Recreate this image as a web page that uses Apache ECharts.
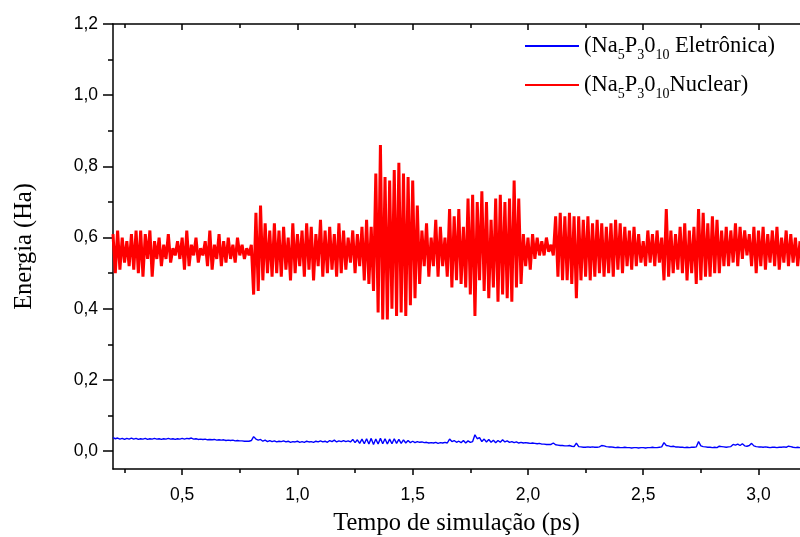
<!DOCTYPE html>
<html>
<head>
<meta charset="utf-8">
<script src="https://cdn.jsdelivr.net/npm/echarts@6/dist/echarts.min.js"></script>
<style>
  html, body { margin: 0; padding: 0; background: #fff; }
  #chart { width: 800px; height: 537px; }
</style>
</head>
<body>
<div id="chart"></div>
<script>
// sample times: start and step (ps)
const T0 = 0.2;
const DT = 0.01;

// Nuclear energy (Ha), one value per sample
const nuclear = [
  0.61,0.50,0.62,0.51,0.60,0.53,0.59,0.52,0.61,0.51,
  0.62,0.50,0.62,0.49,0.61,0.54,0.62,0.49,0.59,0.54,
  0.60,0.52,0.58,0.54,0.61,0.53,0.57,0.55,0.59,0.54,
  0.60,0.51,0.62,0.52,0.58,0.55,0.60,0.53,0.57,0.55,
  0.59,0.52,0.62,0.51,0.58,0.54,0.61,0.52,0.59,0.53,
  0.60,0.54,0.58,0.53,0.60,0.55,0.58,0.54,0.57,0.55,
  0.58,0.44,0.67,0.45,0.69,0.48,0.64,0.50,0.62,0.49,
  0.64,0.50,0.62,0.49,0.63,0.51,0.60,0.48,0.64,0.50,
  0.61,0.52,0.62,0.49,0.64,0.51,0.63,0.48,0.61,0.52,
  0.65,0.49,0.62,0.50,0.63,0.51,0.61,0.49,0.64,0.50,
  0.62,0.51,0.60,0.53,0.62,0.50,0.61,0.52,0.63,0.48,
  0.65,0.47,0.63,0.45,0.78,0.39,0.86,0.37,0.77,0.37,
  0.76,0.40,0.79,0.38,0.81,0.39,0.78,0.38,0.77,0.41,
  0.76,0.43,0.69,0.47,0.62,0.52,0.64,0.49,0.60,0.52,
  0.65,0.49,0.63,0.52,0.60,0.49,0.68,0.46,0.66,0.48,
  0.68,0.47,0.63,0.46,0.71,0.44,0.72,0.38,0.70,0.48,
  0.73,0.45,0.70,0.43,0.65,0.46,0.71,0.42,0.72,0.44,
  0.70,0.43,0.71,0.42,0.76,0.46,0.71,0.47,0.61,0.52,
  0.60,0.51,0.61,0.54,0.60,0.55,0.59,0.55,0.60,0.56,
  0.58,0.55,
  0.66,0.49,0.67,0.48,0.66,0.48,0.67,0.47,0.66,0.43,
  0.66,0.48,0.65,0.49,0.66,0.48,0.64,0.49,0.65,0.50,
  0.64,0.49,0.63,0.50,0.64,0.49,0.65,0.51,0.64,0.50,
  0.63,0.52,0.62,0.51,0.63,0.52,0.61,0.53,0.59,0.52,
  0.62,0.53,0.61,0.52,0.62,0.53,0.60,0.48,
  0.68,0.49,0.62,0.50,0.61,0.51,0.63,0.50,0.64,0.48,
  0.62,0.50,0.63,0.47,
  0.68,0.48,0.67,0.49,0.64,0.49,0.66,0.50,0.65,0.50,
  0.62,0.52,
  0.63,0.52,0.62,0.53,0.64,0.52,0.63,0.54,0.62,0.55,
  0.61,0.52,0.63,0.50,0.62,0.52,0.63,0.51,0.61,0.53,
  0.62,0.52,0.63,0.51,0.60,0.53,0.62,0.52,0.61,0.53,
  0.60,0.52,0.59
];

// Electronic energy (Ha)
const eletronica = [
  0.038,0.035,0.037,0.034,0.036,0.033,0.036,0.034,0.037,0.034,
  0.036,0.033,0.035,0.034,0.036,0.033,0.035,0.034,0.036,0.034,
  0.035,0.033,0.035,0.034,0.036,0.034,0.035,0.033,0.035,0.034,
  0.036,0.034,0.036,0.035,0.037,0.034,0.035,0.033,0.034,0.033,
  0.034,0.032,0.033,0.032,0.033,0.031,0.032,0.031,0.032,0.030,
  0.031,0.030,0.031,0.029,0.030,0.029,0.029,0.028,0.028,0.028,
  0.030,0.041,0.034,0.031,0.033,0.028,0.031,0.027,0.030,0.027,
  0.029,0.026,0.028,0.027,0.029,0.026,0.028,0.025,0.027,0.026,
  0.028,0.025,0.027,0.025,0.028,0.026,0.027,0.025,0.028,0.026,
  0.029,0.026,0.028,0.025,0.030,0.027,0.031,0.026,0.029,0.027,
  0.030,0.027,0.029,0.026,0.033,0.024,0.032,0.022,0.034,0.021,
  0.035,0.020,0.036,0.019,0.034,0.020,0.036,0.021,0.035,0.020,
  0.034,0.021,0.035,0.022,0.033,0.022,0.032,0.023,0.030,0.024,
  0.028,0.024,0.027,0.025,0.026,0.024,0.025,0.023,0.024,0.023,
  0.025,0.022,0.024,0.023,0.025,0.023,0.034,0.027,0.030,0.025,
  0.028,0.024,0.030,0.023,0.029,0.025,0.027,0.046,0.035,0.038,
  0.027,0.034,0.026,0.033,0.025,0.031,0.024,0.030,0.025,0.032,
  0.026,0.029,0.025,0.027,0.024,0.026,0.023,0.025,0.023,0.024,
  0.023,0.022,0.023,0.022,0.021,0.022,0.020,0.020,0.019,0.019,
  0.019,0.023,0.018,0.017,0.016,0.016,0.015,0.015,0.016,0.014,
  0.013,0.023,0.013,0.012,0.011,0.011,0.012,0.011,0.012,0.011,
  0.011,0.012,0.016,0.015,0.013,0.012,0.012,0.011,0.010,0.011,
  0.010,0.010,0.011,0.010,0.010,0.009,0.010,0.010,0.009,0.010,
  0.010,0.009,0.010,0.010,0.011,0.010,0.010,0.011,0.012,0.024,
  0.016,0.015,0.013,0.014,0.012,0.012,0.011,0.011,0.010,0.011,
  0.010,0.011,0.011,0.012,0.027,0.015,0.013,0.012,0.011,0.011,
  0.010,0.011,0.010,0.014,0.013,0.012,0.011,0.012,0.013,0.019,
  0.017,0.020,0.016,0.021,0.015,0.014,0.016,0.022,0.015,0.013,
  0.012,0.012,0.011,0.012,0.011,0.010,0.011,0.011,0.010,0.011,
  0.011,0.012,0.011,0.014,0.013,0.011,0.010,0.011,0.010
];

// tick positions
const xMajor = [0.5, 1.0, 1.5, 2.0, 2.5, 3.0];
const xMinor = [0.25, 0.75, 1.25, 1.75, 2.25, 2.75];
const yMajor = [0, 0.2, 0.4, 0.6, 0.8, 1.0, 1.2];
const yMinor = [0.1, 0.3, 0.5, 0.7, 0.9, 1.1];

const toPairs = arr => arr.map((v, i) => [+(T0 + i * DT).toFixed(2), v]);
const fmt = v => v.toFixed(1).replace('.', ',');

const X_MIN = 0.2, X_MAX = 3.18;
const Y_MIN = -0.05, Y_MAX = 1.2;

const sans = 'Liberation Sans';
const serif = 'Liberation Serif';

function xAxisDef(pos, ticks, len, inside, main) {
  return {
    type: 'value', position: pos, min: X_MIN, max: X_MAX,
    axisLine: { show: main, onZero: false, lineStyle: { color: '#000', width: 1.5 } },
    axisTick: { show: true, customValues: ticks, inside: inside, length: len, lineStyle: { color: '#000', width: 1.5 } },
    axisLabel: { show: main && pos === 'bottom', customValues: ticks, formatter: fmt, margin: 17,
      fontFamily: sans, fontSize: 17.5, color: '#000' },
    splitLine: { show: false },
    name: main && pos === 'bottom' ? 'Tempo de simulação (ps)' : '',
    nameLocation: 'middle', nameGap: 42,
    nameTextStyle: { fontFamily: serif, fontSize: 24.5, color: '#000' }
  };
}

const chart = echarts.init(document.getElementById('chart'));

chart.setOption({
  animation: false,
  backgroundColor: '#fff',
  grid: { left: 113, right: 0, top: 24, bottom: 68, outerBoundsMode: 'none', containLabel: false },
  legend: {
    orient: 'vertical', left: 519, top: 30, itemWidth: 54, itemHeight: 14, itemGap: 12,
    itemStyle: { opacity: 0 },
    formatter: name => '{n|(Na}{s|5}{n|P}{s|3}{n|0}{s|10}{n|' + name + ')}',
    textStyle: {
      color: '#000',
      rich: {
        n: { fontFamily: serif, fontSize: 22.5, color: '#000', lineHeight: 22, verticalAlign: 'top' },
        s: { fontFamily: serif, fontSize: 14, color: '#000', lineHeight: 14, verticalAlign: 'top', padding: [13, 0, 0, 0] }
      }
    },
    data: [' Eletrônica', 'Nuclear']
  },
  xAxis: [
    xAxisDef('bottom', xMajor, 6, false, true),
    xAxisDef('bottom', xMinor, 4, false, false),
    xAxisDef('top', xMajor, 6, true, true),
    xAxisDef('top', xMinor, 4, true, false)
  ],
  yAxis: [
    {
      type: 'value', position: 'left', min: Y_MIN, max: Y_MAX,
      axisLine: { show: true, onZero: false, lineStyle: { color: '#000', width: 1.5 } },
      axisTick: { show: true, customValues: yMajor, length: 10, lineStyle: { color: '#000', width: 1.5 } },
      axisLabel: { customValues: yMajor, formatter: fmt, margin: 15, fontFamily: sans, fontSize: 17.5, color: '#000' },
      splitLine: { show: false },
      name: 'Energia (Ha)', nameLocation: 'middle', nameGap: 76,
      nameTextStyle: { fontFamily: serif, fontSize: 24.5, color: '#000' }
    },
    {
      type: 'value', position: 'left', min: Y_MIN, max: Y_MAX,
      axisLine: { show: false },
      axisTick: { show: true, customValues: yMinor, length: 5, lineStyle: { color: '#000', width: 1.5 } },
      axisLabel: { show: false },
      splitLine: { show: false }
    }
  ],
  series: [
    {
      name: ' Eletrônica', type: 'line', data: toPairs(eletronica),
      symbol: 'none', lineStyle: { color: '#0000ff', width: 1.4 }, itemStyle: { color: '#0000ff' },
      clip: true, z: 3
    },
    {
      name: 'Nuclear', type: 'line', data: toPairs(nuclear),
      symbol: 'none', lineStyle: { color: '#ff0000', width: 3 }, itemStyle: { color: '#ff0000' },
      clip: true, z: 2
    }
  ]
});

window.addEventListener('resize', chart.resize);
</script>
</body>
</html>
